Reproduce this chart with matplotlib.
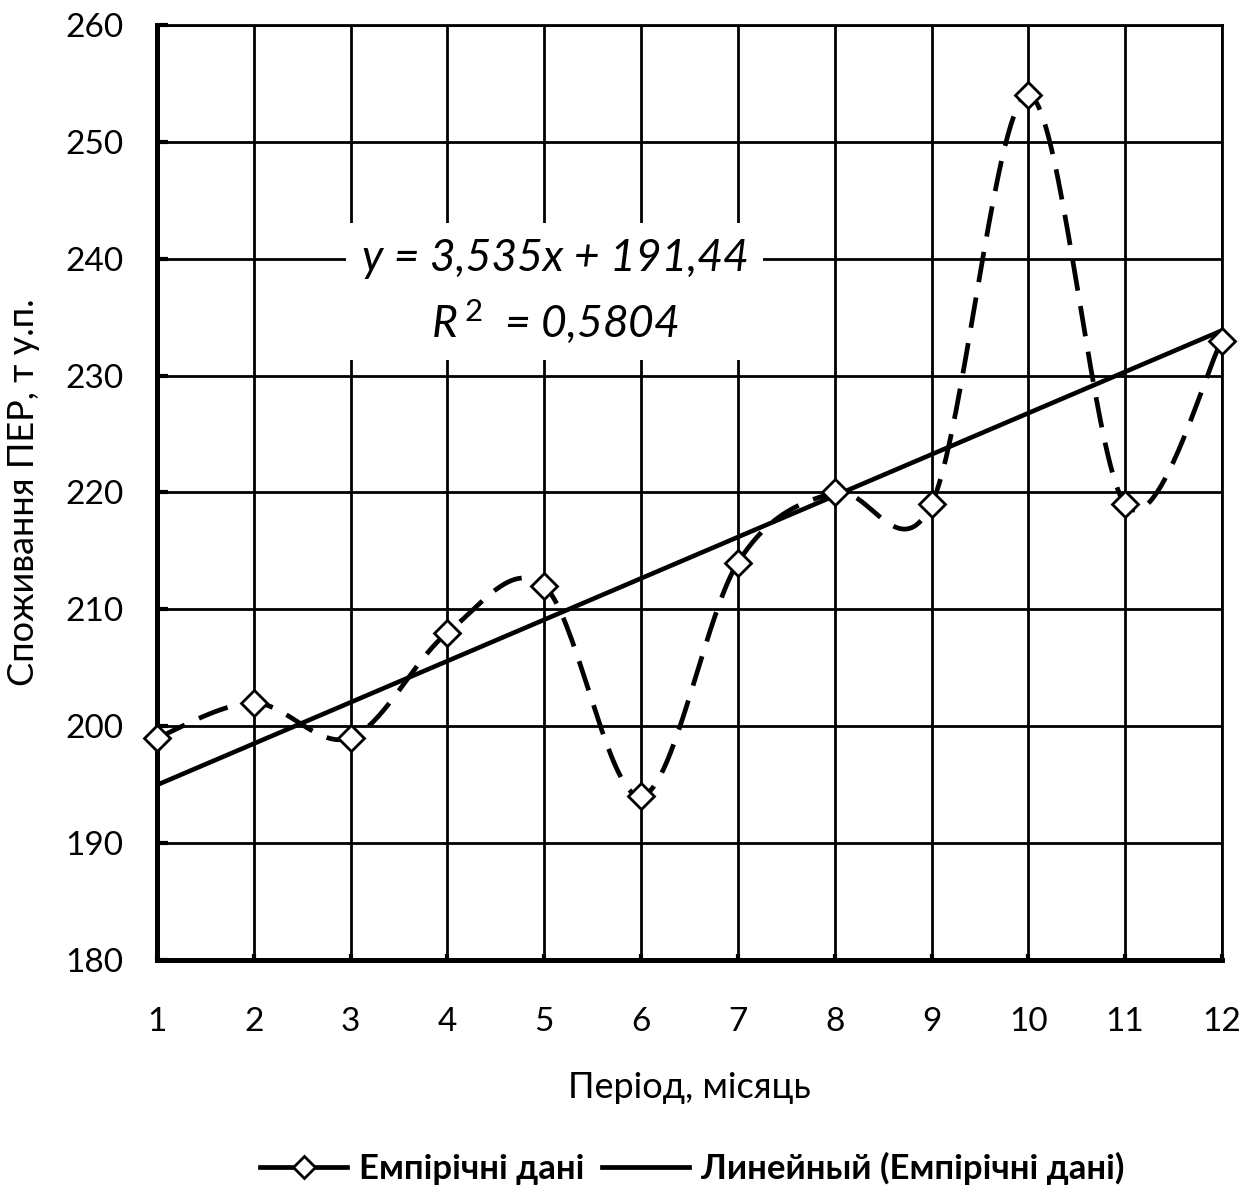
import numpy as np
import matplotlib.pyplot as plt
from matplotlib.lines import Line2D

plt.rcParams['font.family'] = ['Lato', 'Open Sans', 'DejaVu Sans']
plt.rcParams['mathtext.fontset'] = 'custom'
plt.rcParams['mathtext.it'] = 'Lato:italic'
plt.rcParams['mathtext.rm'] = 'Lato'

# monthly primary energy consumption, t of fuel equivalent
months = np.arange(1, 13)
consumption = [199, 202, 199, 208, 212, 194, 214, 220, 219, 254, 219, 233]
y_ticks = [180, 190, 200, 210, 220, 230, 240, 250, 260]


def smooth_curve(x, y, steps=40):
    # smoothed line like a spreadsheet chart: cubic Bezier, Catmull-Rom handles
    p = np.column_stack([x, y]).astype(float)
    ext = np.vstack([p[0], p, p[-1]])
    t = np.linspace(0, 1, steps)[:, None]
    parts = []
    for i in range(len(p) - 1):
        p0, p3 = ext[i + 1], ext[i + 2]
        c1 = p0 + (ext[i + 2] - ext[i]) / 6
        c2 = p3 - (ext[i + 3] - ext[i + 1]) / 6
        seg = ((1 - t) ** 3) * p0 + 3 * ((1 - t) ** 2) * t * c1 \
            + 3 * (1 - t) * t ** 2 * c2 + t ** 3 * p3
        parts.append(seg if i == 0 else seg[1:])
    out = np.vstack(parts)
    return out[:, 0], out[:, 1]


# linear trend
slope, intercept = np.polyfit(months, consumption, 1)
fitted = slope * months + intercept
resid = np.array(consumption) - fitted
r2 = 1 - np.sum(resid ** 2) / np.sum((np.array(consumption) - np.mean(consumption)) ** 2)

fig = plt.figure(figsize=(12.52, 12.01), dpi=100)
ax = fig.add_axes([0.1254, 0.2007, 0.8506, 0.7785])

sx, sy = smooth_curve(months, consumption)
ax.plot(sx, sy, color='black', lw=3.4, dashes=(6.5, 3.3), zorder=3)
ax.plot(months, fitted, color='black', lw=3.3, zorder=4)
ax.plot(months, consumption, ls='none', marker='D', ms=13, mfc='white',
        mec='black', mew=2, zorder=5, clip_on=False)

ax.set_xlim(1, 12)
ax.set_ylim(180, 260)
ax.set_xticks(months)
ax.set_yticks(y_ticks)
ax.grid(True, color='black', lw=2)
ax.set_axisbelow(True)

for side in ['top', 'right']:
    ax.spines[side].set_linewidth(2)
for side in ['left', 'bottom']:
    ax.spines[side].set_linewidth(3.6)

ax.tick_params(axis='x', direction='in', length=4, width=3, pad=34, labelsize=24)
ax.tick_params(axis='y', direction='in', length=8, width=3, pad=24, labelsize=24)

ax.set_xlabel('Період, місяць', fontsize=26, labelpad=24)
ax.set_ylabel('Споживання ПЕР, т у.п.', fontsize=26, labelpad=18)

eq = 'y = {}x + {}'.format(f'{slope:.3f}'.replace('.', ','),
                           f'{intercept:.2f}'.replace('.', ','))
r2_txt = r'$R^{\,2}$  = ' + f'{r2:.4f}'.replace('.', ',')
ax.text(5.11, 237.2, eq + '\n' + r2_txt, ha='center', va='center',
        fontsize=32, style='italic', linespacing=1.45, zorder=6,
        bbox=dict(facecolor='white', edgecolor='none', pad=11))

handles = [
    Line2D([], [], color='black', lw=3.4, marker='D', ms=11, mfc='white',
           mec='black', mew=2),
    Line2D([], [], color='black', lw=3.4),
]
fig.legend(handles, ['Емпірічні дані', 'Линейный (Емпірічні дані)'],
           loc='center', bbox_to_anchor=(0.553, 0.027), ncol=2, frameon=False,
           prop={'size': 25, 'weight': 'bold'}, handlelength=2.5,
           handletextpad=0.35, columnspacing=0.5)

fig.savefig('out.png', dpi=100, facecolor='white')
